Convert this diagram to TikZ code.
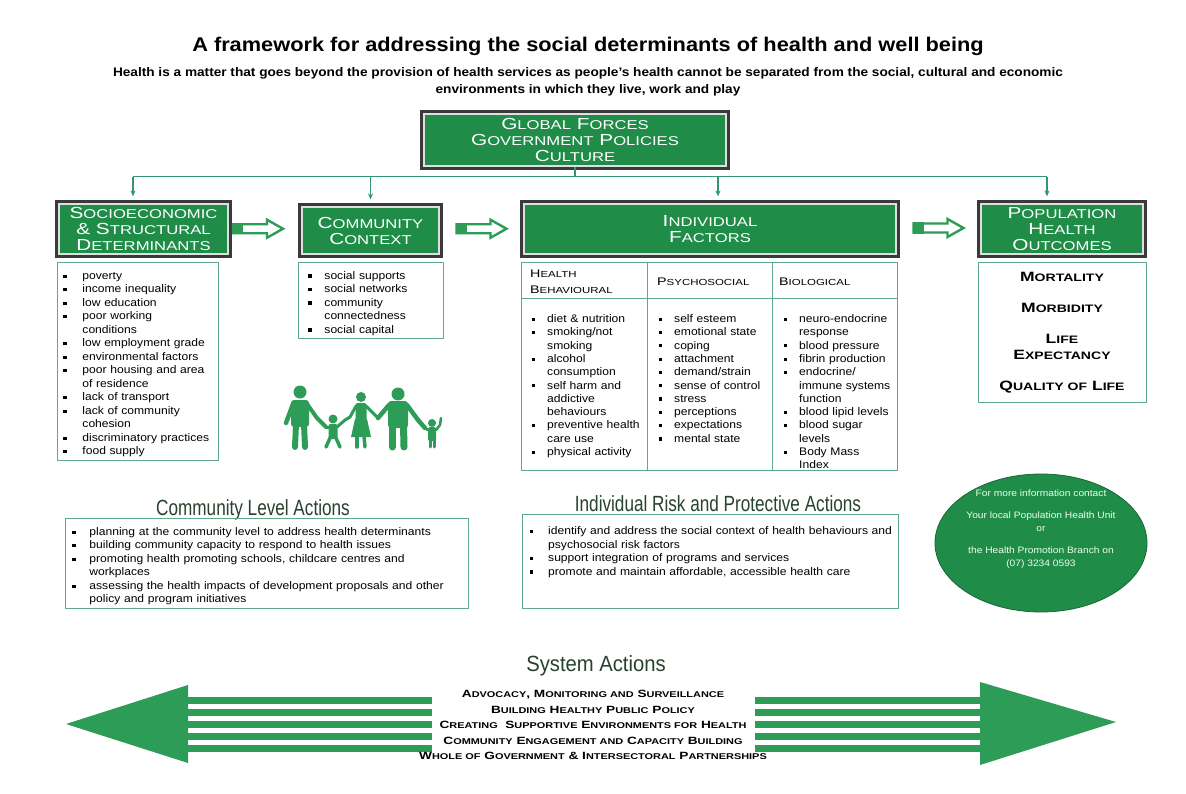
\documentclass[tikz,border=0pt]{standalone}
\usepackage{fontspec}
\setmainfont{Liberation Sans}[FakeStretch=1.1]
\newfontfamily\headfont{Liberation Sans}[FakeStretch=1.3]
\newfontfamily\narrowfont{Liberation Sans}[FakeStretch=0.78]
\newfontfamily\sysfont{Liberation Sans}[FakeStretch=0.92]
\usetikzlibrary{arrows.meta,calc,shapes.geometric}

\definecolor{boxgreen}{RGB}{31,141,72}
\definecolor{arrowgreen}{RGB}{44,156,86}
\definecolor{linkgreen}{RGB}{52,150,112}
\definecolor{framegreen}{RGB}{96,170,140}
\definecolor{frameshadow}{RGB}{58,58,58}
\definecolor{actiongray}{RGB}{40,66,48}
\definecolor{ovaledge}{RGB}{25,100,55}

% small capitals: the rest of a word at 80% of the current size
\makeatletter
\newcommand\Sc[1]{{\fontsize{\fpeval{0.8*\f@size}}{\f@baselineskip}\selectfont #1}}
\makeatother

% square bullet with hanging indent, \newline for a broken item
% (end each list with \par, or its last item loses the indent)
\newlength\bulw
\setlength\bulw{16pt}
\newcommand\bul{\par\noindent\hangindent=\bulw\hangafter=1%
  \makebox[\bulw][l]{\rule[1.6pt]{3.2pt}{3.2pt}}}

\begin{document}
\begin{tikzpicture}[x=1pt,y=-1pt,
  headbox/.style={fill=boxgreen, draw=gray!25, line width=1.2pt,
    preaction={draw=frameshadow, line width=8pt},
    text=white, align=center, inner sep=0pt,
    font=\headfont\fontsize{16}{16}\selectfont},
  listbox/.style={draw=framegreen, line width=0.9pt, inner xsep=7pt,
    font=\fontsize{11}{13.5}\selectfont, align=left},
  colhead/.style={inner sep=0pt, align=left,
    font=\headfont\fontsize{11}{16}\selectfont},
  collist/.style={inner sep=0pt, text width=112, align=left,
    font=\fontsize{11}{13.3}\selectfont,
    execute at begin node={\setlength\bulw{15pt}}},
  link/.style={draw=linkgreen, line width=1.6pt},
  flow/.style={draw=arrowgreen, line width=2.4pt, fill=white},
  action/.style={text=actiongray, anchor=base,
    font=\narrowfont\fontsize{22}{22}\selectfont},
]
\useasboundingbox (0,0) rectangle (1186,794);
\fill[white] (0,0) rectangle (1186,794);

% title
\node[font=\bfseries\fontsize{19.8}{22}\selectfont] (title) at (588,46)
  {A framework for addressing the social determinants of health and well being};
\node[font=\bfseries\fontsize{12.4}{17}\selectfont, align=center] (subtitle) at (588,82)
  {Health is a matter that goes beyond the provision of health services as people's health cannot be separated from the social, cultural and economic\\
   environments in which they live, work and play};

% header boxes
\node[headbox, minimum width=302, minimum height=52] (global) at (575,140)
  {G\Sc{LOBAL} F\Sc{ORCES}\\G\Sc{OVERNMENT} P\Sc{OLICIES}\\C\Sc{ULTURE}};
\node[headbox, minimum width=169, minimum height=50] (socio) at (143.5,229)
  {S\Sc{OCIOECONOMIC}\\\& S\Sc{TRUCTURAL}\\D\Sc{ETERMINANTS}};
\node[headbox, minimum width=137, minimum height=47] (community) at (370.5,230.5)
  {C\Sc{OMMUNITY}\\C\Sc{ONTEXT}};
\node[headbox, minimum width=372, minimum height=50] (individual) at (710,229)
  {I\Sc{NDIVIDUAL}\\F\Sc{ACTORS}};
\node[headbox, minimum width=162, minimum height=50] (outcomes) at (1062,229)
  {P\Sc{OPULATION}\\H\Sc{EALTH}\\O\Sc{UTCOMES}};

% links down from the top box
\coordinate (bus) at ($(global.south)+(0,10)$);
\draw[link] (global.south) -- (bus);
\path ([xshift=-10.5pt]socio.north) coordinate (busl)
      ([xshift=-15pt]outcomes.north) coordinate (busr);
\draw[link] (busl |- bus) -- (busr |- bus);
\foreach \tgt/\dx in {socio/-10.5, community/0, individual/8, outcomes/-15} {
  \path ([xshift=\dx pt]\tgt.north) coordinate (drop);
  \draw[link, -{Stealth[length=6pt,width=5pt]}] (drop |- bus) -- ([yshift=7pt]drop);
}

% hollow arrows between the boxes
\foreach \a/\b/\dx in {socio/community/-7, community/individual/0, individual/outcomes/0} {
  \coordinate (m) at ($(\a.east)!0.5!(\b.west)+(\dx,-1)$);
  \begin{scope}[shift={(m)}]
    \draw[flow] (-25,-4.5) -- (9,-4.5) -- (9,-9) -- (25,0) -- (9,9) -- (9,4.5) -- (-25,4.5) -- cycle;
    \fill[arrowgreen] (-26,-5.7) rectangle (-15,5.7);
  \end{scope}
}

% lists under the boxes
\node[listbox, anchor=north west, inner xsep=6pt, text width=149, minimum height=198,
  execute at begin node={\setlength\bulw{19pt}}] (sociolist) at (57,262)
  {\bul poverty
   \bul income inequality
   \bul low education
   \bul poor working\newline conditions
   \bul low employment grade
   \bul environmental factors
   \bul poor housing and area\newline of residence
   \bul lack of transport
   \bul lack of community\newline cohesion
   \bul discriminatory practices
   \bul food supply\par};
\node[listbox, anchor=north west, inner xsep=10pt, text width=125, minimum height=76]
  (commlist) at (298,262)
  {\bul social supports
   \bul social networks
   \bul community\newline connectedness
   \bul social capital\par};

% individual factors table
\node[listbox, anchor=north west, inner sep=0pt, minimum width=376, minimum height=208]
  (indtable) at (521,262) {};
\draw[framegreen, line width=0.9pt]
  ($(indtable.north west)+(0,36)$) -- ($(indtable.north east)+(0,36)$)
  ($(indtable.north west)+(126,0)$) -- ($(indtable.south west)+(126,0)$)
  ($(indtable.north west)+(251,0)$) -- ($(indtable.south west)+(251,0)$);
\node[colhead, anchor=west] (hbeh) at (530,282) {H\Sc{EALTH}\\B\Sc{EHAVIOURAL}};
\node[colhead, anchor=west] (hpsy) at (657,282) {P\Sc{SYCHOSOCIAL}};
\node[colhead, anchor=west] (hbio) at (779,282) {B\Sc{IOLOGICAL}};
\node[collist, anchor=north west] (behlist) at (532,309)
  {\bul diet \& nutrition
   \bul smoking/not\newline smoking
   \bul alcohol\newline consumption
   \bul self harm and\newline addictive\newline behaviours
   \bul preventive health\newline care use
   \bul physical activity\par};
\node[collist, anchor=north west] (psylist) at (659,309)
  {\bul self esteem
   \bul emotional state
   \bul coping
   \bul attachment
   \bul demand/strain
   \bul sense of control
   \bul stress
   \bul perceptions
   \bul expectations
   \bul mental state\par};
\node[collist, anchor=north west] (biolist) at (784,309)
  {\bul neuro-endocrine\newline response
   \bul blood pressure
   \bul fibrin production
   \bul endocrine/\newline immune systems\newline function
   \bul blood lipid levels
   \bul blood sugar\newline levels
   \bul Body Mass\newline Index\par};

% outcomes
\node[listbox, anchor=north, inner sep=0pt, minimum width=168, minimum height=140, align=center,
  font=\headfont\bfseries\fontsize{13.5}{16}\selectfont] (outlist) at (1062,262)
  {M\Sc{ORTALITY}\\[15pt]M\Sc{ORBIDITY}\\[15pt]L\Sc{IFE}\\E\Sc{XPECTANCY}\\[15pt]Q\Sc{UALITY OF} L\Sc{IFE}};

% family
\begin{scope}[arrowgreen, line cap=round, line join=round]
  % father
  \fill (300,392) circle (6.5);
  \fill[rounded corners=3pt] (291,400) rectangle (309,427);
  \draw[line width=6pt] (296,424) -- (295,447);
  \draw[line width=6pt] (304,424) -- (305,447);
  \draw[line width=4.5pt] (293,404) -- (286,423);
  \draw[line width=4pt] (307,404) -- (317,418) -- (326,427);
  % boy
  \fill (333,419) circle (4.5);
  \fill[rounded corners=2pt] (328.5,424) rectangle (337.5,439);
  \draw[line width=3.5pt] (330,438) -- (326,447);
  \draw[line width=3.5pt] (336,438) -- (340,447);
  \draw[line width=3pt] (329,427) -- (326,427);
  \draw[line width=3pt] (337,427) -- (345,420) -- (350,417);
  % mother
  \fill (361,397) circle (5);
  \fill[rounded corners=2pt] (355.5,403) rectangle (366.5,421);
  \fill (355,419) -- (367,419) -- (371,437) -- (351,437) -- cycle;
  \draw[line width=3.5pt] (357,436) -- (357,447);
  \draw[line width=3.5pt] (364,436) -- (365,447);
  \draw[line width=3pt] (356,406) -- (350,417);
  \draw[line width=3pt] (366,406) -- (378,418);
  % grandfather
  \fill (398,394) circle (6.5);
  \fill[rounded corners=3pt] (388,401) rectangle (408,428);
  \draw[line width=7pt] (392.5,425) -- (392.5,447);
  \draw[line width=7pt] (403.5,425) -- (404,447);
  \draw[line width=4.5pt] (389,405) -- (378,418);
  \draw[line width=4.5pt] (407,405) -- (418,420) -- (425,428);
  % girl
  \fill (432,423) circle (4);
  \fill[rounded corners=2pt] (428,427) rectangle (436,441);
  \draw[line width=3pt] (430,440) -- (430,447);
  \draw[line width=3pt] (434,440) -- (434,447);
  \draw[line width=2.5pt] (428,430) -- (425,428);
  \draw[line width=2.5pt] (436,430) -- (440,425) -- (441,418);
\end{scope}

% community and individual actions
\node[action] (comhead) at (253,515) {Community Level Actions};
\node[listbox, anchor=north west, text width=389, minimum height=90,
  execute at begin node={\setlength\bulw{17pt}}] (comact) at (65,518)
  {\bul planning at the community level to address health determinants
   \bul building community capacity to respond to health issues
   \bul promoting health promoting schools, childcare centres and\newline workplaces
   \bul assessing the health impacts of development proposals and other\newline policy and program initiatives\par};
\node[action] (indhead) at (718,511) {Individual Risk and Protective Actions};
\node[listbox, anchor=north west, minimum width=376, minimum height=94] (indact) at (522,514) {};
\node[anchor=north west, inner sep=0pt, text width=368, align=left,
  font=\fontsize{11}{13.5}\selectfont,
  execute at begin node={\setlength\bulw{18pt}}] (indacttext) at ([xshift=8pt,yshift=-7pt]indact.north west)
  {\bul identify and address the social context of health behaviours and\newline psychosocial risk factors
   \bul support integration of programs and services
   \bul promote and maintain affordable, accessible health care\par};

% contact oval
\node[ellipse, fill=boxgreen, draw=ovaledge, line width=0.8pt,
  minimum width=212, minimum height=138] (contact) at (1041,543) {};
\node[text=white!92!green, align=center, font=\fontsize{9.3}{12.5}\selectfont]
  (contacttext) at ([yshift=14pt]contact.center)
  {For more information contact\\[10pt]
   Your local Population Health Unit\\or\\[10pt]
   the Health Promotion Branch on\\(07) 3234 0593};

% system actions
\node[action, font=\sysfont\fontsize{22}{22}\selectfont] (syshead) at (596,671) {System Actions};
\fill[arrowgreen] (66,724) -- (188,685) -- (188,763) -- cycle;
\fill[arrowgreen] (1116,722) -- (980,682) -- (980,765) -- cycle;
\foreach \sy in {700.5,712.5,724.5,736.5,748.5} {
  \fill[arrowgreen] (186,\sy-3.2) rectangle (432,\sy+3.2);
  \fill[arrowgreen] (755,\sy-3.2) rectangle (982,\sy+3.2);
}
\node[align=center, font=\headfont\bfseries\fontsize{10.5}{15.5}\selectfont] (sysacts) at (593,725)
  {A\Sc{DVOCACY}, M\Sc{ONITORING AND} S\Sc{URVEILLANCE}\\
   B\Sc{UILDING} H\Sc{EALTHY} P\Sc{UBLIC} P\Sc{OLICY}\\
   C\Sc{REATING}\ \ S\Sc{UPPORTIVE} E\Sc{NVIRONMENTS FOR} H\Sc{EALTH}\\
   C\Sc{OMMUNITY} E\Sc{NGAGEMENT AND} C\Sc{APACITY} B\Sc{UILDING}\\
   W\Sc{HOLE OF} G\Sc{OVERNMENT} \& I\Sc{NTERSECTORAL} P\Sc{ARTNERSHIPS}};
\end{tikzpicture}
\end{document}
